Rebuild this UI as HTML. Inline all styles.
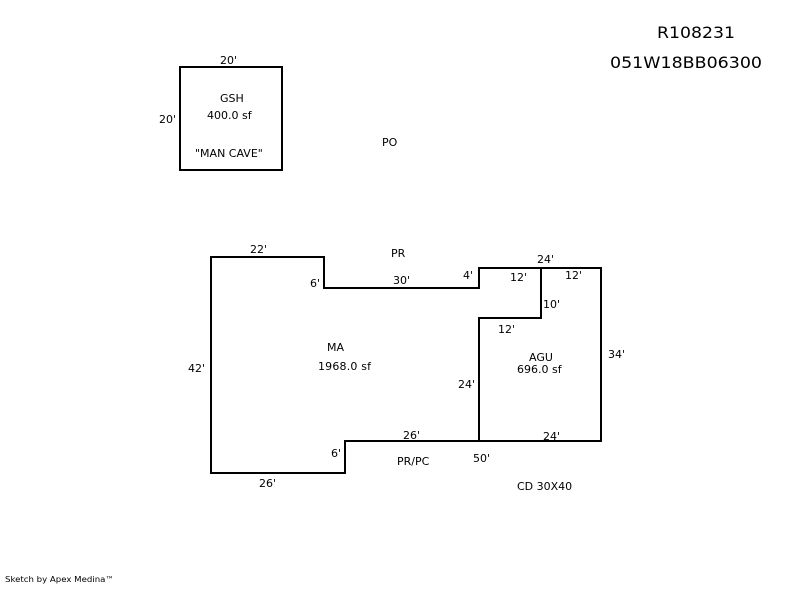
<!DOCTYPE html>
<html><head><style>body{margin:0;background:#fff}svg text{font-family:"DejaVu Sans","Liberation Sans",sans-serif;font-size:11px;fill:#000}</style></head>
<body>
<svg width="800" height="587" xmlns="http://www.w3.org/2000/svg">
<g fill="none" stroke="#000" stroke-width="2">
<rect x="180" y="67" width="102" height="103"/>
<polygon points="211,257 324,257 324,288 479,288 479,268 601,268 601,441 345,441 345,473 211,473"/>
<polyline points="541,268 541,318 479,318 479,441"/>
</g>
<text x="657" y="38" style="font-size:16px" textLength="78" lengthAdjust="spacingAndGlyphs">R108231</text>
<text x="610" y="68" style="font-size:16px" textLength="152" lengthAdjust="spacingAndGlyphs">051W18BB06300</text>
<text x="220" y="64">20'</text>
<text x="159" y="123">20'</text>
<text x="220" y="102">GSH</text>
<text x="207" y="119">400.0 sf</text>
<text x="195" y="157">"MAN CAVE"</text>
<text x="382" y="146">PO</text>
<text x="250" y="253">22'</text>
<text x="391" y="257">PR</text>
<text x="310" y="287">6'</text>
<text x="393" y="284">30'</text>
<text x="463" y="279">4'</text>
<text x="537" y="263">24'</text>
<text x="510" y="281">12'</text>
<text x="565" y="279">12'</text>
<text x="543" y="308">10'</text>
<text x="498" y="333">12'</text>
<text x="327" y="351">MA</text>
<text x="318" y="370" textLength="53">1968.0 sf</text>
<text x="529" y="361">AGU</text>
<text x="517" y="373">696.0 sf</text>
<text x="608" y="358">34'</text>
<text x="188" y="372">42'</text>
<text x="458" y="388">24'</text>
<text x="403" y="439">26'</text>
<text x="543" y="440">24'</text>
<text x="331" y="457">6'</text>
<text x="473" y="462">50'</text>
<text x="397" y="465">PR/PC</text>
<text x="259" y="487">26'</text>
<text x="517" y="490">CD 30X40</text>
<text x="5" y="582" style="font-size:8px" textLength="109" lengthAdjust="spacingAndGlyphs">Sketch by Apex Medina™</text>
</svg>
</body></html>
